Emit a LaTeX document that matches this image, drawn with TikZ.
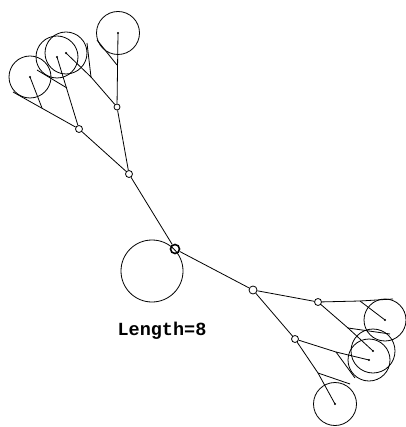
\documentclass[tikz,border=0pt]{standalone}
\usepackage{fontspec}
\newfontfamily\labelfont{Liberation Mono}
\begin{document}
\begin{tikzpicture}[x=1pt,y=-1pt,line width=0.8pt,
  leaf/.style={circle,draw,inner sep=0pt,minimum size=#1},
  joint/.style={circle,draw,inner sep=0pt,minimum size=#1},
  rootnode/.style={circle,draw,inner sep=0pt,minimum size=9pt,line width=1.6pt},
  edge/.style={draw,line width=0.8pt}]
\useasboundingbox (0,0) rectangle (405,427);
% internal joints
\node[rootnode] (root) at (175,249) {};
\node[leaf=62pt] (big) at (152,271) {};
\node[joint=7pt] (A) at (129,174) {};
\node[joint=7pt] (B) at (79,129) {};
\node[joint=6pt] (C) at (117,107) {};
\node[joint=8pt] (E) at (253,290) {};
\node[joint=7pt] (F) at (318,302) {};
\node[joint=7pt] (G) at (295,339) {};
\coordinate (D) at (91,77);
\coordinate (H) at (360,301);
\coordinate (K) at (348,328);
\coordinate (M) at (336,352);
\coordinate (N) at (318,373);
% leaves
\node[leaf=42pt] (L1) at (30,77) {};
\node[leaf=42pt] (L2) at (57,57) {};
\node[leaf=42pt] (L3) at (66,53) {};
\node[leaf=43pt] (L4) at (118,33) {};
\node[leaf=42pt] (L5) at (385,320) {};
\node[leaf=44pt] (L6) at (373,351) {};
\node[leaf=42pt] (L7) at (369,360) {};
\node[leaf=43pt] (L8) at (335,404) {};
\foreach \l in {L1,L2,L3,L4,L5,L6,L7,L8} \fill (\l.center) circle[radius=1.2pt];
% tangent points and junctions
\coordinate (t1) at (13,92);  \coordinate (j1) at (42,108);
\coordinate (t2) at (37,70);  \coordinate (j2) at (67,88);
\coordinate (t3) at (87,43);
\coordinate (t4) at (97,40);  \coordinate (j4) at (117,65);
\coordinate (t5) at (393,299);
\coordinate (t6) at (390,334);
\coordinate (t7) at (355,378);
\coordinate (t8) at (350,384);
% edges upper
\draw (root) -- (A);
\draw (A) -- (B);
\draw (A) -- (C);
\draw (B) -- (L2.center);
\draw (t1) -- (B);
\draw (L1.center) -- (j1);
\draw (t2) -- (j2);
\draw (C) -- (D);
\draw (D) -- (L3.center);
\draw (D) -- (t3);
\draw (C) -- (L4.center);
\draw (t4) -- (j4);
% edges lower
\draw (root) -- (E);
\draw (E) -- (F);
\draw (E) -- (G);
\draw (F) -- (H);
\draw (H) -- (L5.center);
\draw (H) -- (t5);
\draw (F) -- (K);
\draw (K) -- (L6.center);
\draw (K) -- (t6);
\draw (G) -- (M);
\draw (M) -- (L7.center);
\draw (M) -- (t7);
\draw (G) -- (N);
\draw (N) -- (L8.center);
\draw (N) -- (t8);
% label
\node[font=\labelfont\bfseries\fontsize{18.5}{20}\selectfont,inner sep=0pt] (lbl) at (162,331) {Length=8};
\end{tikzpicture}
\end{document}
